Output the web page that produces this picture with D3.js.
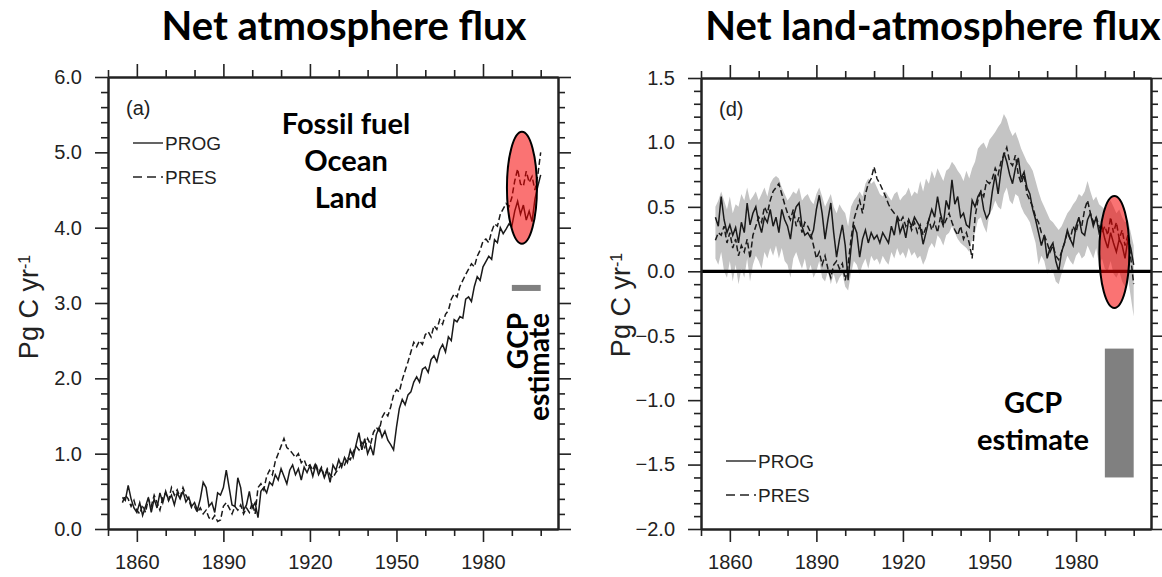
<!DOCTYPE html>
<html>
<head>
<meta charset="utf-8">
<script src="https://cdn.jsdelivr.net/npm/d3@7"></script>
<style>
  body { margin: 0; background: #fff; }
  svg { display: block; }
  .axis text { font-family: "Liberation Sans", Arial, sans-serif; fill: #222; }
  .axis path, .axis line { stroke: #222; }
  .note { font-family: Lato, "Open Sans", sans-serif; font-weight: 700; fill: #000; }
</style>
</head>
<body>
<div id="chart"></div>
<script>
// years of the model runs
const firstYear = 1855;
const lastYear = 2000;
const years = d3.range(firstYear, lastYear + 1);

const majorYears = [1860, 1890, 1920, 1950, 1980];
const minorYears = [1850, 1870, 1880, 1900, 1910, 1930, 1940, 1960, 1970, 1990, 2000];

// (a) net atmosphere flux, Pg C/yr
const atmosProg = [
  0.42, 0.38, 0.58, 0.40, 0.28, 0.22, 0.35, 0.18, 0.30, 0.42,
  0.22, 0.40, 0.28, 0.48, 0.35, 0.50, 0.38, 0.45, 0.32, 0.48,
  0.40, 0.50, 0.36, 0.42, 0.30, 0.35, 0.25, 0.40, 0.62, 0.55,
  0.30, 0.35, 0.22, 0.48, 0.45, 0.55, 0.78, 0.55, 0.32, 0.30,
  0.68, 0.55, 0.25, 0.32, 0.50, 0.28, 0.35, 0.15, 0.50, 0.55,
  0.48, 0.62, 0.58, 0.72, 0.65, 0.80, 0.70, 0.60, 0.78, 0.85,
  0.72, 0.80, 0.65, 0.82, 0.75, 0.84, 0.70, 0.85, 0.72, 0.80,
  0.68, 0.78, 0.62, 0.85, 0.78, 0.92, 0.82, 0.95, 0.88, 1.05,
  0.95, 1.12, 1.28, 1.05, 1.20, 1.00, 1.10, 0.98, 1.25, 1.35,
  1.22, 1.30, 1.18, 1.12, 1.05, 1.35, 1.60, 1.72, 1.65, 1.78,
  1.82, 1.95, 2.02, 1.95, 2.12, 2.15, 2.08, 2.25, 2.30, 2.22,
  2.38, 2.45, 2.35, 2.55, 2.50, 2.78, 2.75, 2.82, 2.80, 3.05,
  3.08, 3.02, 3.22, 3.35, 3.30, 3.48, 3.55, 3.62, 3.58, 3.84,
  3.80, 4.00, 3.92, 3.98, 4.05, 4.02, 4.22, 4.35, 4.18, 4.30,
  4.10, 4.22, 4.08, 4.38, 4.55, 4.70
];
const atmosPres = [
  0.35, 0.45, 0.40, 0.30, 0.38, 0.25, 0.20, 0.32, 0.22, 0.40,
  0.30, 0.45, 0.35, 0.25, 0.42, 0.48, 0.38, 0.55, 0.45, 0.52,
  0.42, 0.55, 0.45, 0.38, 0.28, 0.30, 0.22, 0.28, 0.20, 0.25,
  0.15, 0.12, 0.18, 0.10, 0.12, 0.30, 0.35, 0.28, 0.20, 0.30,
  0.25, 0.32, 0.20, 0.28, 0.22, 0.35, 0.20, 0.55, 0.60, 0.52,
  0.70, 0.78, 0.72, 0.90, 1.00, 1.10, 1.20, 1.08, 1.05, 1.00,
  0.95, 1.00, 0.88, 0.92, 0.82, 0.85, 0.78, 0.88, 0.75, 0.82,
  0.70, 0.80, 0.72, 0.68, 0.75, 0.80, 0.88, 0.85, 0.95, 0.92,
  1.02, 1.10, 1.05, 1.15, 1.08, 1.20, 1.12, 1.28, 1.35, 1.30,
  1.48, 1.55, 1.50, 1.62, 1.78, 1.85, 1.82, 1.98, 2.10, 2.22,
  2.35, 2.48, 2.42, 2.50, 2.45, 2.58, 2.62, 2.55, 2.70, 2.65,
  2.78, 2.72, 2.85, 2.90, 3.05, 3.12, 3.08, 3.22, 3.30, 3.38,
  3.45, 3.52, 3.48, 3.62, 3.70, 3.82, 3.85, 3.80, 3.95, 4.05,
  4.02, 4.18, 4.25, 4.32, 4.28, 4.40, 4.62, 4.78, 4.58, 4.55,
  4.75, 4.60, 4.68, 4.50, 4.70, 5.00
];

// (d) net land-atmosphere flux, Pg C/yr
const landProg = [
  0.42, 0.35, 0.58, 0.40, 0.30, 0.36, 0.28, 0.34, 0.22, 0.38,
  0.30, 0.53, 0.36, 0.45, 0.50, 0.38, 0.30, 0.42, 0.38, 0.48,
  0.35, 0.42, 0.30, 0.48, 0.40, 0.35, 0.25, 0.42, 0.50, 0.53,
  0.35, 0.28, 0.30, 0.26, 0.32, 0.48, 0.59, 0.45, 0.25, 0.40,
  0.53, 0.30, 0.11, 0.25, 0.36, 0.20, -0.07, 0.18, 0.36, 0.30,
  0.11, 0.25, 0.32, 0.22, 0.30, 0.25, 0.28, 0.22, 0.30, 0.26,
  0.22, 0.35, 0.28, 0.42, 0.30, 0.36, 0.26, 0.40, 0.35, 0.42,
  0.38, 0.34, 0.21, 0.30, 0.40, 0.48, 0.42, 0.58, 0.45, 0.36,
  0.55, 0.48, 0.71, 0.52, 0.58, 0.42, 0.45, 0.36, 0.34, 0.55,
  0.50, 0.58, 0.62, 0.48, 0.41, 0.45, 0.62, 0.75, 0.60, 0.78,
  0.92, 0.85, 0.75, 0.68, 0.80, 0.88, 0.72, 0.77, 0.65, 0.60,
  0.48, 0.40, 0.30, 0.20, 0.28, 0.10, 0.18, 0.22, 0.08, 0.00,
  0.15, 0.22, 0.32, 0.25, 0.20, 0.35, 0.42, 0.30, 0.28, 0.40,
  0.45, 0.35, 0.42, 0.30, 0.35, 0.25, 0.18, 0.30, 0.22, 0.15,
  0.25, 0.20, 0.10, 0.25, 0.18, 0.05
];
const landPres = [
  0.24, 0.30, 0.28, 0.35, 0.22, 0.30, 0.18, 0.25, 0.12, 0.20,
  0.15, 0.25, 0.10, 0.28, 0.35, 0.42, 0.38, 0.50, 0.45, 0.55,
  0.62, 0.65, 0.68, 0.60, 0.52, 0.45, 0.40, 0.48, 0.35, 0.42,
  0.30, 0.38, 0.35, 0.30, 0.20, 0.10, 0.15, 0.05, 0.12, 0.02,
  -0.05, 0.05, 0.08, 0.02, 0.06, -0.07, 0.05, 0.25, 0.40, 0.48,
  0.55, 0.45, 0.60, 0.68, 0.72, 0.81, 0.72, 0.68, 0.63, 0.58,
  0.52, 0.48, 0.45, 0.43, 0.38, 0.42, 0.35, 0.40, 0.32, 0.38,
  0.30, 0.36, 0.28, 0.34, 0.40, 0.32, 0.38, 0.30, 0.42, 0.35,
  0.40, 0.45, 0.38, 0.32, 0.28, 0.35, 0.25, 0.30, 0.22, 0.10,
  0.42, 0.55, 0.62, 0.58, 0.70, 0.68, 0.72, 0.80, 0.75, 0.85,
  0.90, 0.96, 0.85, 0.82, 0.90, 0.75, 0.68, 0.75, 0.60, 0.55,
  0.50, 0.42, 0.38, 0.30, 0.28, 0.22, 0.15, 0.20, 0.12, 0.09,
  0.15, 0.22, 0.30, 0.25, 0.35, 0.30, 0.40, 0.35, 0.48, 0.55,
  0.45, 0.38, 0.42, 0.35, 0.30, 0.35, 0.28, 0.42, 0.30, 0.38,
  0.25, 0.32, 0.20, 0.28, 0.10, -0.10
];
// grey spread of the land flux
const landUpper = [
  0.50, 0.55, 0.62, 0.55, 0.48, 0.58, 0.45, 0.52, 0.50, 0.60,
  0.55, 0.65, 0.55, 0.58, 0.62, 0.55, 0.60, 0.65, 0.58, 0.68,
  0.72, 0.74, 0.72, 0.65, 0.60, 0.55, 0.58, 0.62, 0.60, 0.65,
  0.55, 0.58, 0.60, 0.55, 0.52, 0.60, 0.65, 0.58, 0.50, 0.55,
  0.60, 0.50, 0.45, 0.52, 0.48, 0.45, 0.35, 0.50, 0.55, 0.58,
  0.62, 0.58, 0.68, 0.72, 0.68, 0.70, 0.65, 0.60, 0.58, 0.62,
  0.58, 0.55, 0.60, 0.62, 0.55, 0.58, 0.60, 0.65, 0.58, 0.62,
  0.60, 0.70, 0.62, 0.72, 0.68, 0.78, 0.72, 0.80, 0.75, 0.70,
  0.78, 0.80, 0.85, 0.82, 0.78, 0.75, 0.70, 0.78, 0.72, 0.80,
  0.85, 0.95, 0.98, 1.00, 0.95, 1.02, 1.05, 1.08, 1.12, 1.15,
  1.22, 1.18, 1.10, 1.05, 1.08, 1.02, 0.95, 0.90, 0.85, 0.82,
  0.78, 0.70, 0.62, 0.55, 0.50, 0.45, 0.40, 0.38, 0.35, 0.32,
  0.35, 0.40, 0.45, 0.48, 0.52, 0.55, 0.60, 0.58, 0.62, 0.70,
  0.62, 0.55, 0.58, 0.52, 0.50, 0.48, 0.52, 0.55, 0.50, 0.45,
  0.48, 0.42, 0.38, 0.40, 0.30, 0.20
];
const landLower = [
  0.10, 0.05, 0.15, 0.00, -0.05, 0.08, -0.08, 0.05, -0.10, 0.02,
  -0.05, 0.10, -0.08, 0.05, 0.12, 0.08, 0.02, 0.15, 0.10, 0.18,
  0.12, 0.20, 0.10, 0.18, 0.08, 0.05, -0.05, 0.10, 0.15, 0.08,
  0.02, 0.10, -0.02, 0.05, -0.05, 0.00, 0.08, -0.05, -0.08, 0.00,
  -0.10, -0.02, -0.10, -0.05, -0.02, -0.12, -0.15, -0.02, 0.08, 0.05,
  -0.02, 0.05, 0.10, 0.02, 0.12, 0.08, 0.10, 0.05, 0.12, 0.08,
  0.05, 0.15, 0.10, 0.18, 0.12, 0.15, 0.10, 0.18, 0.12, 0.15,
  0.10, 0.12, 0.05, 0.10, 0.18, 0.22, 0.18, 0.28, 0.25, 0.20,
  0.28, 0.30, 0.35, 0.30, 0.25, 0.22, 0.20, 0.18, 0.15, 0.25,
  0.30, 0.40, 0.42, 0.35, 0.30, 0.45, 0.48, 0.55, 0.50, 0.48,
  0.60, 0.65, 0.55, 0.52, 0.60, 0.58, 0.50, 0.45, 0.42, 0.38,
  0.30, 0.22, 0.05, 0.12, 0.08, -0.02, 0.02, 0.00, -0.08, -0.10,
  -0.02, 0.05, 0.12, 0.08, 0.05, 0.12, 0.15, 0.10, 0.12, 0.20,
  0.15, 0.10, 0.18, 0.05, 0.10, 0.02, 0.00, 0.08, -0.02, -0.05,
  0.00, -0.08, -0.12, -0.05, -0.20, -0.35
];

// Global Carbon Project estimate (1990s)
const gcpYears = [1990, 2000];
const gcpAtmos = [3.16, 3.24];
const gcpLand = [-1.6, -0.6];

// centre of the red highlight [year, value]
const atmosHighlight = [1993.5, 4.53];
const landHighlight = [1993.3, 0.15];

const svg = d3.select('#chart').append('svg')
  .attr('width', 1162)
  .attr('height', 577)
  .style('background', '#fff');

const fmt1 = d3.format('.1f');

function drawPanel(p) {
  const x = d3.scaleLinear().domain([1850, 2006]).range([p.left, p.right]);
  const y = d3.scaleLinear().domain(p.yDomain).range([p.bottom, p.top]);
  const g = svg.append('g').attr('class', 'panel');

  g.append('clipPath').attr('id', p.id + '-clip')
    .append('rect')
    .attr('x', p.left).attr('y', p.top)
    .attr('width', p.right - p.left).attr('height', p.bottom - p.top);

  const plot = g.append('g').attr('clip-path', `url(#${p.id}-clip)`);

  if (p.band) {
    const area = d3.area()
      .x((d, i) => x(years[i]))
      .y0((d, i) => y(p.band[1][i]))
      .y1(d => y(d));
    plot.append('path')
      .datum(p.band[0])
      .attr('d', area)
      .attr('fill', '#c4c4c4');
  }

  const line = d3.line().x((d, i) => x(years[i])).y(d => y(d));
  plot.append('path').datum(p.pres).attr('d', line)
    .attr('fill', 'none').attr('stroke', '#1a1a1a').attr('stroke-width', 1.5)
    .attr('stroke-dasharray', '6,3');
  plot.append('path').datum(p.prog).attr('d', line)
    .attr('fill', 'none').attr('stroke', '#1a1a1a').attr('stroke-width', 1.5);

  if (p.zeroLine) {
    g.append('line')
      .attr('x1', p.left).attr('x2', p.right)
      .attr('y1', y(0)).attr('y2', y(0))
      .attr('stroke', '#000').attr('stroke-width', 3.2);
  }

  // GCP estimate bar
  g.append('rect')
    .attr('x', x(gcpYears[0]))
    .attr('width', x(gcpYears[1]) - x(gcpYears[0]))
    .attr('y', y(p.gcp[1]))
    .attr('height', y(p.gcp[0]) - y(p.gcp[1]))
    .attr('fill', '#808080');

  // red highlight of the 1990s
  g.append('ellipse')
    .attr('cx', x(p.highlight[0]))
    .attr('cy', y(p.highlight[1]))
    .attr('rx', 15).attr('ry', 56)
    .attr('fill', 'rgb(245,0,0)').attr('fill-opacity', 0.55)
    .attr('stroke', '#000').attr('stroke-width', 2);

  // frame with outward ticks on all four sides
  const yMajor = d3.range(p.yDomain[0], p.yDomain[1] + 1e-9, p.yMajorStep);
  const yMinor = d3.range(p.yDomain[0], p.yDomain[1] + 1e-9, p.yMinorStep)
    .filter(v => !yMajor.some(m => Math.abs(m - v) < 1e-6));

  const addAxis = (axis, transform, labels) => {
    const a = g.append('g').attr('class', 'axis').attr('transform', transform).call(axis);
    a.selectAll('path').attr('stroke-width', 2);
    a.selectAll('line').attr('stroke-width', 1.6);
    a.selectAll('text').style('font-size', '20px');
    if (!labels) a.selectAll('text').remove();
    return a;
  };

  addAxis(d3.axisBottom(x).tickValues(minorYears).tickSize(7).tickSizeOuter(0), `translate(0,${p.bottom})`, false);
  addAxis(d3.axisBottom(x).tickValues(majorYears).tickSize(13).tickSizeOuter(0).tickPadding(13).tickFormat(d3.format('d')), `translate(0,${p.bottom})`, true);
  addAxis(d3.axisTop(x).tickValues(minorYears).tickSize(7).tickSizeOuter(0), `translate(0,${p.top})`, false);
  addAxis(d3.axisTop(x).tickValues(majorYears).tickSize(13).tickSizeOuter(0), `translate(0,${p.top})`, false);
  addAxis(d3.axisLeft(y).tickValues(yMinor).tickSize(7).tickSizeOuter(0), `translate(${p.left},0)`, false);
  addAxis(d3.axisLeft(y).tickValues(yMajor).tickSize(13).tickSizeOuter(0).tickPadding(13).tickFormat(fmt1), `translate(${p.left},0)`, true);
  addAxis(d3.axisRight(y).tickValues(yMinor).tickSize(7).tickSizeOuter(0), `translate(${p.right},0)`, false);
  addAxis(d3.axisRight(y).tickValues(yMajor).tickSize(13).tickSizeOuter(0), `translate(${p.right},0)`, false);

  // y axis title
  const yt = g.append('text')
    .attr('transform', `translate(${p.yTitleX},${p.yTitleY}) rotate(-90)`)
    .attr('text-anchor', 'middle')
    .style('font-family', '"Liberation Sans", Arial, sans-serif')
    .style('font-size', '27px')
    .attr('fill', '#222');
  yt.append('tspan').text('Pg C yr');
  yt.append('tspan').attr('baseline-shift', 'super').style('font-size', '16px').text('-1');

  // panel letter
  g.append('text')
    .attr('x', p.left + 18).attr('y', p.top + 38)
    .style('font-family', '"Liberation Sans", Arial, sans-serif')
    .style('font-size', '20px')
    .attr('fill', '#222')
    .text(p.letter);

  // legend
  const legend = g.append('g').attr('transform', `translate(${p.left + p.legendX},${p.legendY})`);
  [['PROG', null], ['PRES', '9,5']].forEach(([name, dash], i) => {
    const row = legend.append('g').attr('transform', `translate(0,${i * 34})`);
    row.append('line').attr('x1', 0).attr('x2', 30).attr('y1', 0).attr('y2', 0)
      .attr('stroke', '#222').attr('stroke-width', 1.4)
      .attr('stroke-dasharray', dash);
    row.append('text').attr('x', 32).attr('y', 7)
      .style('font-family', '"Liberation Sans", Arial, sans-serif')
      .style('font-size', '19px')
      .attr('fill', '#222')
      .text(name);
  });

  // title
  svg.append('text')
    .attr('class', 'note')
    .attr('x', p.titleX).attr('y', 40)
    .attr('text-anchor', 'middle')
    .style('font-size', '40px')
    .text(p.title);

  return { x, y, g };
}

const left = drawPanel({
  id: 'atmos', title: 'Net atmosphere flux', titleX: 344, letter: '(a)',
  left: 108, right: 558, top: 77, bottom: 529,
  yDomain: [0, 6], yMajorStep: 1, yMinorStep: 0.2,
  prog: atmosProg, pres: atmosPres,
  gcp: gcpAtmos, highlight: atmosHighlight,
  legendX: 25, legendY: 143,
  yTitleX: 38, yTitleY: 307
});

const right = drawPanel({
  id: 'land', title: 'Net land-atmosphere flux', titleX: 933, letter: '(d)',
  left: 701, right: 1151, top: 78, bottom: 529,
  yDomain: [-2, 1.5], yMajorStep: 0.5, yMinorStep: 0.1,
  prog: landProg, pres: landPres, band: [landUpper, landLower],
  gcp: gcpLand, highlight: landHighlight, zeroLine: true,
  legendX: 25, legendY: 461,
  yTitleX: 630, yTitleY: 305
});

// annotations
const lines = left.g.append('text').attr('class', 'note')
  .attr('text-anchor', 'middle').style('font-size', '29px');
[['Fossil fuel', 134], ['Ocean', 171], ['Land', 208]].forEach(([t, yy]) => {
  lines.append('tspan').attr('x', 346).attr('y', yy).text(t);
});

const gcpA = left.g.append('text').attr('class', 'note')
  .attr('transform', 'translate(528,313) rotate(-90)')
  .attr('text-anchor', 'end').style('font-size', '28px');
gcpA.append('tspan').attr('x', 0).attr('y', 0).text('GCP');
gcpA.append('tspan').attr('x', 0).attr('y', 21).text('estimate');

const gcpD = right.g.append('text').attr('class', 'note')
  .attr('text-anchor', 'middle').style('font-size', '29px');
gcpD.append('tspan').attr('x', 1033).attr('y', 413).text('GCP');
gcpD.append('tspan').attr('x', 1033).attr('y', 450).text('estimate');
</script>
</body>
</html>
